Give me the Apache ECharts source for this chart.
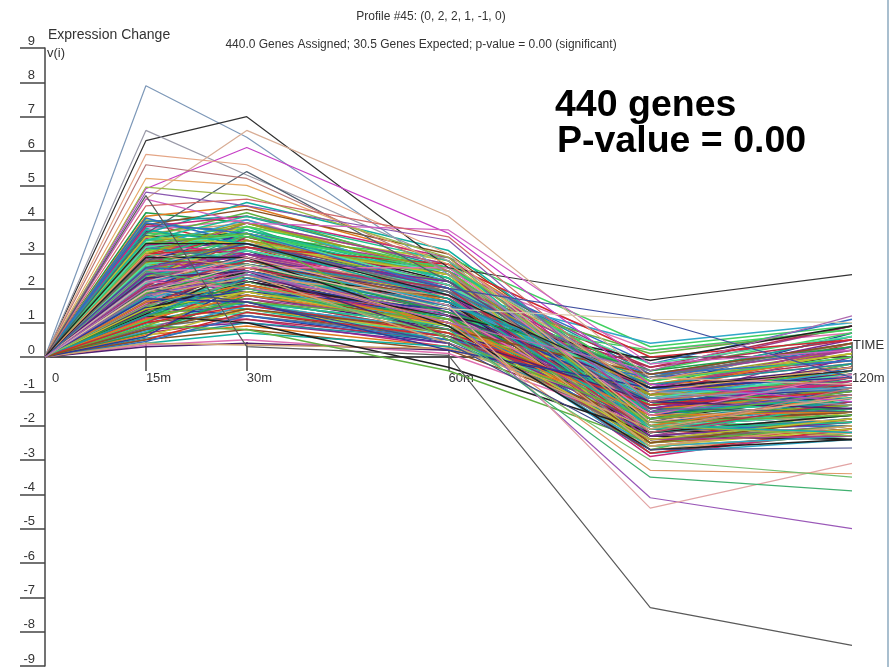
<!DOCTYPE html>
<html><head><meta charset="utf-8">
<script src="https://cdn.jsdelivr.net/npm/echarts@6/dist/echarts.min.js"></script>
<style>
html,body{margin:0;padding:0;background:#fff;}
#chart{width:887px;height:667px;border-right:2px solid #a9bfcf;}
</style></head>
<body><div id="chart"></div>
<script>
// Time points (minutes) and their labels
const times = [0, 15, 30, 60, 90, 120];
const labelTimes = [0, 15, 30, 60, 120];
const labelTexts = ['0', '15m', '30m', '60m', '120m'];
const tickTimes = [15, 30, 60, 120];

// Outlying genes: [0m,15m,30m,60m,90m,120m]
const outlierGenes = [
  [0, 7.9, 6.4, 2.4, -1.2, -0.9],
  [0, 6.3, 7.0, 2.6, 1.66, 2.4],
  [0, 6.6, 5.3, 2.8, -1.0, -1.4],
  [0, 4.6, 6.6, 4.1, -0.6, -0.8],
  [0, 4.9, 6.1, 3.6, -0.8, -1.3],
  [0, 3.6, 5.4, 2.2, -1.5, -1.6],
  [0, 5.9, 5.6, 3.0, -1.9, -1.2],
  [0, 5.6, 5.2, 2.5, -2.2, -0.9],
  [0, 5.2, 5.0, 2.7, -1.0, -0.3],
  [0, 4.95, 4.7, 2.9, -2.0, -2.3],
  [0, 4.8, 4.4, 3.4, -1.6, -1.1],
  [0, 4.6, 3.9, 3.7, -0.2, 0.2],
  [0, 4.4, 4.6, 3.5, -1.3, -0.6],
  [0, 1.8, 2.4, 1.2, -4.1, -5.0],
  [0, 2.2, 2.9, 1.5, -4.4, -3.1],
  [0, 2.5, 2.0, 0.8, -3.5, -3.9],
  [0, 3.0, 2.6, 1.0, -3.3, -3.4],
  [0, 1.5, 2.2, 0.6, -3.0, -3.5],
  [0, 2.0, 1.6, 0.4, -2.7, -2.65],
  [0, 4.7, 0.3, 0.05, -7.3, -8.4],
  [0, 2.6, 3.3, 2.0, 1.1, -0.6],
  [0, 1.9, 2.7, 1.4, 1.1, 1.0],
  [0, 3.3, 3.3, 1.8, -0.9, -0.4],
  [0, 2.0, 2.5, 1.0, -0.4, 1.2]
];
const outlierColors = ['#7d98b8', '#333333', '#9a9aa8', '#d8ad95', '#c63fc6', '#4f5f6f', '#e4a585', '#b87878', '#e8a868', '#98b848', '#8a58b0', '#d060c0', '#d06868',
  '#9a58b8', '#e2a4a4', '#40b070', '#e09868', '#70c070', '#404888', '#5a5a5a', '#4050a0', '#d8c8a8', '#222222', '#b06ab0'];

// Main bundle
const genesHigh = [
  [0,4.2,3.9,2.3,-1.2,-0.6],[0,4.1,4.4,2.8,-0.8,-0.2],[0,4.0,3.5,1.9,-1.9,-1.4],[0,3.95,4.1,2.6,-0.5,0.4],
  [0,3.9,3.2,1.6,-2.3,-1.8],[0,3.85,4.3,3.0,-1.1,-0.9],[0,3.8,3.7,2.1,-1.6,-0.3],[0,3.75,3.0,1.4,-2.6,-2.0],
  [0,3.7,4.0,2.4,0.2,0.7],[0,3.65,3.4,2.0,-1.4,-1.1],[0,3.6,3.9,2.7,-2.0,-1.5],[0,3.55,3.1,1.2,-1.8,-0.8],
  [0,3.5,3.6,2.2,-0.9,0.1],[0,3.5,4.2,2.5,-2.4,-2.1],[0,3.45,2.9,1.7,-1.3,-0.5],[0,3.4,3.5,2.9,0.3,0.9],
  [0,3.4,3.8,1.8,-2.2,-1.7],[0,3.35,3.2,2.0,-1.0,-1.2],[0,3.3,3.9,2.3,-1.7,-0.4],[0,3.3,2.8,1.5,-2.8,-2.2],
  [0,3.25,3.6,2.6,-0.4,0.9],[0,3.2,3.3,1.9,-1.5,-1.0],[0,3.2,4.0,2.2,-2.1,-1.3],[0,3.15,3.0,1.3,-0.8,-0.1],
  [0,3.1,3.7,2.4,-1.9,-2.3],[0,3.1,3.4,1.6,-1.1,0.3],[0,3.05,3.8,2.8,-2.5,-1.6],[0,3.0,2.7,1.1,-1.6,-0.7],
  [0,3.0,3.5,2.0,-0.6,0.6],[0,2.95,3.1,1.7,-2.0,-1.9],[0,4.05,3.3,2.5,-0.2,1.1],[0,3.6,4.5,3.1,-1.2,-0.5]
];
const genesMid = [
  [0,2.9,3.4,2.1,-1.3,-0.2],[0,2.9,2.6,1.4,-2.4,-1.8],[0,2.85,3.0,1.8,-0.9,-0.6],[0,2.8,3.6,2.5,-1.7,-1.1],
  [0,2.8,2.4,1.0,-2.1,-2.4],[0,2.75,3.2,1.9,0.1,0.8],[0,2.7,2.9,1.5,-1.5,-0.9],[0,2.7,3.5,2.3,-2.7,-1.5],
  [0,2.65,2.5,1.2,-1.0,-0.3],[0,2.6,3.1,2.0,-1.9,-2.0],[0,2.6,2.8,1.6,-0.7,0.2],[0,2.55,3.3,2.2,-1.2,-0.8],
  [0,2.5,2.3,0.9,-2.3,-1.3],[0,2.5,3.0,1.7,-1.6,0.0],[0,2.45,2.7,1.9,0.4,1.0],[0,2.4,3.2,2.4,-2.0,-1.7],
  [0,2.4,2.5,1.3,-1.4,-1.1],[0,2.35,2.9,1.6,-0.8,-0.5],[0,2.3,3.4,2.1,-2.5,-2.2],[0,2.3,2.2,1.1,-1.8,-0.6],
  [0,2.25,2.8,1.8,-1.1,0.4],[0,2.2,2.6,1.4,-2.2,-1.9],[0,2.2,3.1,2.0,-0.6,-0.1],[0,2.15,2.4,1.2,-1.5,-1.4],
  [0,2.1,2.9,1.9,-2.6,-2.0],[0,2.1,2.1,0.8,-1.0,-0.4],[0,2.05,2.7,1.5,-1.7,-0.9],[0,2.0,3.0,2.2,-0.9,0.7],
  [0,2.0,2.3,1.0,-2.4,-2.3],[0,2.0,2.6,1.7,-1.3,-1.0],[0,2.95,2.2,1.3,-2.9,-2.1],[0,2.6,3.8,2.6,-1.0,-0.7],
  [0,2.35,3.6,2.3,-1.6,-1.2],[0,2.15,3.3,2.5,-2.1,-1.5],[0,2.75,2.0,0.7,-1.2,-0.2],[0,2.45,2.0,1.1,-2.0,-1.6],
  [0,2.85,3.9,2.7,-1.4,0.3],[0,2.25,1.9,0.9,-0.7,0.5],[0,2.55,2.1,1.0,-2.8,-2.4],[0,2.05,3.5,2.1,-0.3,0.9]
];
const genesLow = [
  [0,1.95,2.5,1.6,-1.4,-0.8],[0,1.9,2.2,1.2,-2.0,-1.6],[0,1.9,2.8,1.8,-0.8,0.1],[0,1.85,2.0,0.9,-1.7,-1.2],
  [0,1.8,2.6,1.5,-2.5,-2.1],[0,1.8,1.9,1.0,-1.1,-0.3],[0,1.75,2.4,1.4,-1.9,-1.4],[0,1.7,2.1,1.1,-0.6,0.6],
  [0,1.7,2.7,1.7,-2.2,-1.8],[0,1.65,1.8,0.8,-1.5,-0.9],[0,1.6,2.3,1.3,-2.7,-2.2],[0,1.6,2.0,1.2,-1.0,-0.5],
  [0,1.55,2.5,1.6,-1.8,-1.1],[0,1.5,1.7,0.7,-2.3,-1.9],[0,1.5,2.2,1.0,-1.3,-0.2],[0,1.45,1.9,1.1,0.2,0.8],
  [0,1.4,2.4,1.5,-2.1,-1.5],[0,1.4,1.6,0.6,-1.6,-1.3],[0,1.35,2.1,1.2,-2.6,-2.3],[0,1.3,1.8,0.9,-1.2,-0.7],
  [0,1.3,2.3,1.4,-0.9,0.3],[0,1.25,1.5,0.8,-2.0,-1.7],[0,1.2,2.0,1.0,-1.7,-1.0],[0,1.2,1.7,0.7,-2.4,-2.0],
  [0,1.15,2.2,1.3,-1.4,-0.6],[0,1.1,1.4,0.6,-0.8,0.0],[0,1.1,1.9,1.1,-2.2,-1.4],[0,1.05,1.6,0.9,-1.5,-1.2],
  [0,1.0,2.1,1.2,-2.8,-2.1],[0,1.0,1.3,0.5,-1.0,-0.4],[0,1.9,1.5,0.6,-2.1,-2.0],[0,1.75,1.4,0.5,-1.3,-0.9],
  [0,1.55,3.0,1.9,-1.1,-0.3],[0,1.35,2.7,1.8,-1.9,-1.6],[0,1.65,2.9,2.0,-0.7,0.4],[0,1.45,1.2,0.4,-1.8,-1.4],
  [0,1.25,2.6,1.6,-2.3,-2.4],[0,1.85,3.2,2.2,-1.6,-0.9],[0,1.15,1.1,0.3,-1.2,-0.8],[0,1.05,2.4,1.5,-0.4,0.7]
];
const genesFlat = [
  [0,0.95,1.6,0.9,-1.6,-1.3],[0,0.9,1.3,0.7,-2.0,-1.7],[0,0.9,1.9,1.1,-1.1,-0.4],[0,0.85,1.2,0.6,-2.4,-2.0],
  [0,0.8,1.7,1.0,-0.9,0.2],[0,0.8,1.0,0.4,-1.8,-1.5],[0,0.75,1.5,0.8,-2.6,-2.3],[0,0.7,1.1,0.5,-1.3,-0.6],
  [0,0.7,1.8,1.2,-2.1,-1.2],[0,0.65,0.9,0.3,-1.5,-1.1],[0,0.6,1.4,0.7,-0.7,0.1],[0,0.55,1.0,0.5,-2.2,-1.8],
  [0,0.5,1.3,0.6,-1.4,-0.8],[0,0.5,0.8,0.2,-1.9,-1.6],[0,0.45,1.2,0.5,-0.6,0.3],[0,0.4,0.7,0.3,-1.2,-0.9],
  [0,0.35,0.5,0.1,-2.0,-2.2],[0,0.3,0.4,0.2,-1.0,-0.5],[0,0.4,0.35,0.25,-1.6,-1.9],[0,0.6,2.2,1.3,-1.7,-1.0],
  [0,1.2,1.0,-0.3,-2.2,-1.7],[0,0.9,0.8,-0.4,-2.5,-2.0]
];
const genesExtra = [
  [0,3.3,3.0,2.1,-1.0,-0.8],[0,3.1,3.6,2.5,-1.4,-0.2],[0,2.9,3.7,2.3,-2.2,-1.4],[0,2.7,3.1,2.0,-0.2,0.6],
  [0,2.5,3.4,2.4,-1.1,-1.0],[0,2.3,2.9,1.7,-1.9,-0.7],[0,2.1,3.2,2.1,-0.5,0.2],[0,1.9,2.9,1.9,-2.3,-1.9],
  [0,1.7,2.4,1.6,-1.2,-0.4],[0,1.5,2.6,1.5,-0.3,0.5],[0,1.3,2.0,1.3,-1.6,-1.5],[0,1.1,1.8,1.0,-2.0,-1.1],
  [0,3.5,3.3,2.4,-2.6,-2.1],[0,3.2,2.8,1.9,-1.8,-1.3],[0,3.0,3.2,2.7,0.0,0.5],[0,2.8,2.7,1.7,-2.5,-1.8],
  [0,2.6,2.5,1.5,-0.5,-0.1],[0,2.4,2.8,2.0,-1.6,-1.2],[0,2.2,2.0,1.3,-2.0,-2.2],[0,2.0,2.2,1.2,-0.9,-0.3],
  [0,1.8,2.3,1.8,-2.6,-2.0],[0,1.6,1.9,1.4,-1.3,-0.9],[0,1.4,2.2,1.2,-0.1,0.9],[0,1.2,1.6,1.1,-1.9,-1.7],
  [0,3.8,4.1,2.9,-1.5,-0.7],[0,3.6,3.5,2.6,-0.7,0.0],[0,3.4,4.1,2.8,-2.1,-1.9],[0,3.2,3.6,2.1,-1.2,-0.5],
  [0,3.0,3.9,2.5,-1.8,-1.4],[0,2.8,3.3,1.9,-0.6,0.4],[0,2.6,3.0,1.8,-2.4,-2.3],[0,2.4,3.0,2.2,-1.5,-0.6],
  [0,2.2,2.7,1.6,-1.0,-0.9],[0,2.0,2.8,2.0,-2.2,-1.3],[0,1.8,2.7,1.3,-0.4,0.3],[0,1.6,2.1,1.0,-1.7,-1.6],
  [0,1.4,1.9,0.9,-2.4,-1.8],[0,1.2,2.3,1.6,-0.8,-0.2],[0,1.0,1.5,0.7,-1.4,-1.0],[0,0.8,1.4,0.8,-0.5,0.4],
  [0,3.9,3.6,2.0,-0.9,-1.0],[0,3.7,3.3,1.7,-2.0,-2.2],[0,2.5,2.6,2.6,-1.7,-0.5],[0,2.3,2.5,0.6,-1.3,-1.5],
  [0,1.9,2.4,0.4,-2.1,-1.1],[0,1.7,1.6,0.2,-0.9,-0.6],[0,2.9,2.9,0.9,-2.7,-2.4],[0,3.3,3.6,0.5,-1.8,-1.0]
];

const palette = ['#1f9e4a','#10b0a0','#c8287a','#7a2a9a','#d02830','#2a3a9a','#9aa020','#e07a20',
  '#e070b0','#40d060','#30a8c8','#8a5020','#202020','#707070','#c0c030','#502070',
  '#20c090','#b03050','#3070c0','#60b040','#a04090','#2090a0','#d0a070','#50e0a0'];

const bundle = [].concat(genesHigh, genesMid, genesLow, genesFlat, genesExtra);
const series = [];
bundle.forEach(function (g, i) {
  series.push({
    type: 'line', silent: true, symbol: 'none', animation: false,
    data: g.map(function (v, j) { return [times[j], v]; }),
    lineStyle: { width: 1.5, color: palette[(i * 7) % palette.length] }
  });
});
outlierGenes.forEach(function (g, i) {
  series.push({
    type: 'line', silent: true, symbol: 'none', animation: false,
    data: g.map(function (v, j) { return [times[j], v]; }),
    lineStyle: { width: 1.2, color: outlierColors[i] }
  });
});

const FONT = "'Liberation Sans', Arial, sans-serif";
const GRID_TOP = 48, GRID_BOTTOM = 1, H = 667;
const zeroOffset = -((H - GRID_TOP - GRID_BOTTOM) / 2);
const chart = echarts.init(document.getElementById('chart'), null, { renderer: 'canvas' });
chart.setOption({
  animation: false,
  backgroundColor: '#fff',
  title: [
    { text: 'Profile #45: (0, 2, 2, 1, -1, 0)', left: 431, top: 10, textAlign: 'center', padding: 0,
      textStyle: { fontFamily: FONT, fontSize: 12, fontWeight: 'normal', color: '#333', lineHeight: 14 } },
    { text: '440.0 Genes Assigned; 30.5 Genes Expected; p-value = 0.00 (significant)', left: 421, top: 38, textAlign: 'center', padding: 0,
      textStyle: { fontFamily: FONT, fontSize: 12, fontWeight: 'normal', color: '#333', lineHeight: 14 } },
    { text: 'Expression Change', left: 48, top: 28, padding: 0,
      textStyle: { fontFamily: FONT, fontSize: 14, fontWeight: 'normal', color: '#333', lineHeight: 14 } },
    { text: 'v(i)', left: 47, top: 46, padding: 0,
      textStyle: { fontFamily: FONT, fontSize: 13, fontWeight: 'normal', color: '#333', lineHeight: 14 } },
    { text: '440 genes', left: 555, top: 87, padding: 0,
      textStyle: { fontFamily: FONT, fontSize: 37.5, fontWeight: 'bold', color: '#000', lineHeight: 37 } },
    { text: 'P-value = 0.00', left: 557, top: 123, padding: 0,
      textStyle: { fontFamily: FONT, fontSize: 37.5, fontWeight: 'bold', color: '#000', lineHeight: 37 } }
  ],
  grid: { left: 45, right: 35, top: GRID_TOP, bottom: GRID_BOTTOM, containLabel: false, outerBoundsMode: 'none' },
  xAxis: [
    {
      type: 'value', min: 0, max: 120, position: 'bottom', offset: zeroOffset,
      axisLine: { onZero: false, lineStyle: { color: '#444', width: 1.5 } },
      axisTick: { show: true, inside: false, length: 14, customValues: tickTimes, lineStyle: { color: '#444', width: 1.5 } },
      axisLabel: {
        customValues: labelTimes, align: 'left', margin: 14, fontFamily: FONT, fontSize: 13, color: '#333', lineHeight: 14,
        formatter: function (v) { const k = labelTimes.indexOf(v); return k === 0 ? '{z|' + labelTexts[k] + '}' : (k > 0 ? labelTexts[k] : ''); },
        rich: { z: { padding: [0, 0, 0, 7], fontFamily: FONT, fontSize: 13, color: '#333' } }
      },
      splitLine: { show: false },
      name: 'TIME', nameLocation: 'end', nameGap: 1,
      nameTextStyle: { fontFamily: FONT, fontSize: 13, color: '#333', align: 'left', verticalAlign: 'bottom', lineHeight: 24 }
    },
    {
      type: 'value', min: 0, max: 120, position: 'bottom', offset: zeroOffset,
      axisLine: { onZero: false, lineStyle: { color: '#444', width: 1.5 } },
      axisTick: { show: true, inside: true, length: 15, customValues: tickTimes, lineStyle: { color: '#444', width: 1.5 } },
      axisLabel: { show: false },
      splitLine: { show: false }
    }
  ],
  yAxis: {
    type: 'value', min: -9, max: 9, interval: 1,
    axisLine: { show: true, onZero: false, lineStyle: { color: '#444', width: 1.5 } },
    axisTick: { show: true, inside: false, length: 25, lineStyle: { color: '#444', width: 1.5 } },
    axisLabel: { align: 'right', verticalAlign: 'bottom', margin: 10, lineHeight: 14, fontFamily: FONT, fontSize: 13, color: '#333' },
    splitLine: { show: false }
  },
  series: series
});
</script>
</body></html>
